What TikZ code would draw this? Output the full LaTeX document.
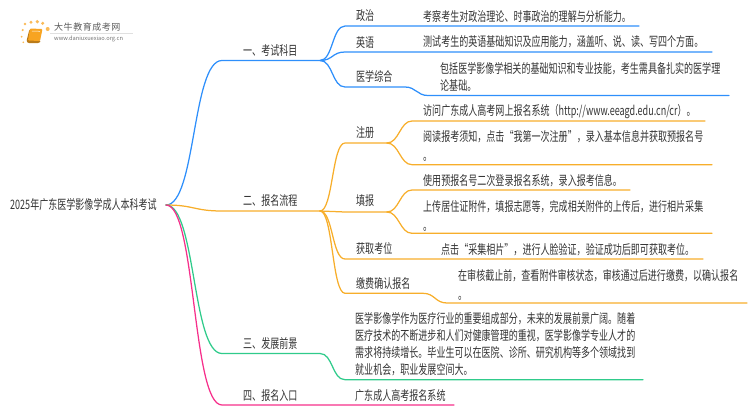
\documentclass[tikz,border=0pt]{standalone}
\usepackage{fontspec}
\setmainfont{Noto Sans CJK SC}[FakeStretch=0.695]
\newfontfamily\logofont{Noto Sans CJK SC}[LetterSpace=6]
\newfontfamily\urlfont{Noto Sans CJK SC}
\usepackage{tikz}

\definecolor{keblue}{HTML}{2E8FFB}
\definecolor{keorange}{HTML}{F7AE2B}
\definecolor{kegreen}{HTML}{2FCB8B}
\definecolor{kepink}{HTML}{F62F8B}
\definecolor{ketext}{HTML}{333333}
\definecolor{logoorange}{HTML}{F8A421}

\tikzset{
    txt/.style={anchor=west, inner sep=0pt, text=ketext, font=\fontsize{13}{17}\selectfont, align=left},
    branch/.style={line width=1.25pt, line cap=round},
    dot/.style={circle, fill=logoorange!75, inner sep=0pt}
}

\begin{document}
\begin{tikzpicture}[x=1pt, y=-1pt]

    \useasboundingbox (0,0) rectangle (750,410);

    \coordinate (R) at (166,205);

    % first level
    \coordinate (A) at (222,60.5);
    \coordinate (Ae) at (320,60.5);
    \coordinate (B) at (222,211);
    \coordinate (Be) at (320,211);
    \coordinate (C) at (222,353.5);
    \coordinate (Ce) at (320,353.5);
    \coordinate (D) at (222,405);
    \coordinate (De) at (454,405);

    % second level
    \coordinate (A1) at (345,26);
    \coordinate (A1e) at (639,26);
    \coordinate (A2) at (345,52);
    \coordinate (A2e) at (712,52);
    \coordinate (A3) at (345,87);
    \coordinate (A3m) at (405,87);
    \coordinate (A3n) at (428,95.5);
    \coordinate (A3e) at (729,95.5);
    \coordinate (B1) at (345,143);
    \coordinate (B1m) at (387,143);
    \coordinate (B1a) at (412,121);
    \coordinate (B1ae) at (705,121);
    \coordinate (B1b) at (412,164.7);
    \coordinate (B1be) at (712,164.7);
    \coordinate (B2) at (345,212);
    \coordinate (B2m) at (387,212);
    \coordinate (B2a) at (412,190);
    \coordinate (B2ae) at (630,190);
    \coordinate (B2b) at (412,233.3);
    \coordinate (B2be) at (712,233.3);
    \coordinate (B3) at (345,259);
    \coordinate (B3e) at (703,259);
    \coordinate (B4) at (345,293.3);
    \coordinate (B4m) at (423,293.3);
    \coordinate (B4n) at (447,303);
    \coordinate (B4e) at (747,303);
    \coordinate (C1) at (345,379.7);
    \coordinate (C1e) at (643,379.7);

    \draw[branch, keblue] (R) .. controls +(30,0) and +(-30,0) .. (A) -- (Ae);
    \draw[branch, keblue] (Ae) .. controls +(13,0) and +(-13,0) .. (A1) -- (A1e);
    \draw[branch, keblue] (Ae) .. controls +(13,0) and +(-13,0) .. (A2) -- (A2e);
    \draw[branch, keblue] (Ae) .. controls +(13,0) and +(-13,0) .. (A3) -- (A3m)
        .. controls +(11,0) and +(-11,0) .. (A3n) -- (A3e);

    \draw[branch, keorange] (R) .. controls +(28,0) and +(-28,0) .. (B) -- (Be);
    \draw[branch, keorange] (Be) .. controls +(13,0) and +(-13,0) .. (B1) -- (B1m);
    \draw[branch, keorange] (B1m) .. controls +(12,0) and +(-12,0) .. (B1a) -- (B1ae);
    \draw[branch, keorange] (B1m) .. controls +(12,0) and +(-12,0) .. (B1b) -- (B1be);
    \draw[branch, keorange] (Be) -- (B2) -- (B2m);
    \draw[branch, keorange] (B2m) .. controls +(12,0) and +(-12,0) .. (B2a) -- (B2ae);
    \draw[branch, keorange] (B2m) .. controls +(12,0) and +(-12,0) .. (B2b) -- (B2be);
    \draw[branch, keorange] (Be) .. controls +(13,0) and +(-13,0) .. (B3) -- (B3e);
    \draw[branch, keorange] (Be) .. controls +(13,0) and +(-13,0) .. (B4) -- (B4m)
        .. controls +(12,0) and +(-12,0) .. (B4n) -- (B4e);

    \draw[branch, kegreen] (R) .. controls +(30,0) and +(-30,0) .. (C) -- (Ce);
    \draw[branch, kegreen] (Ce) .. controls +(13,0) and +(-13,0) .. (C1) -- (C1e);

    \draw[branch, kepink] (R) .. controls +(30,0) and +(-30,0) .. (D) -- (De);

    % labels
    \node[txt] (root) at (10,205) {2025年广东医学影像学成人本科考试};
    \node[txt] (n1) at (243,51) {一、考试科目};
    \node[txt] (n2) at (243,201) {二、报名流程};
    \node[txt] (n3) at (243,344) {三、发展前景};
    \node[txt] (n4) at (243,396) {四、报名入口};

    \node[txt] (n11) at (356,16) {政治};
    \node[txt] (n12) at (356,43) {英语};
    \node[txt] (n13) at (356,76) {医学综合};
    \node[txt] (n21) at (356,133) {注册};
    \node[txt] (n22) at (356,201) {填报};
    \node[txt] (n23) at (356,249) {获取考位};
    \node[txt] (n24) at (356,284) {缴费确认报名};

    \node[txt] (t11) at (423,17) {考察考生对政治理论、时事政治的理解与分析能力。};
    \node[txt] (t12) at (423,42) {测试考生的英语基础知识及应用能力，涵盖听、说、读、写四个方面。};
    \node[txt] (t13) at (440,77) {包括医学影像学相关的基础知识和专业技能，考生需具备扎实的医学理\\论基础。};
    \node[txt] (t21) at (423,112) {访问广东成人高考网上报名系统（http://www.eeagd.edu.cn/cr）。};
    \node[txt] (t22) at (423,146) {阅读报考须知，点击“我第一次注册”，录入基本信息并获取预报名号\\[2pt]。};
    \node[txt] (t23) at (423,181) {使用预报名号二次登录报名系统，录入报考信息。};
    \node[txt] (t24) at (423,216) {上传居住证附件，填报志愿等，完成相关附件的上传后，进行相片采集\\[2pt]。};
    \node[txt] (t25) at (441,250) {点击“采集相片”，进行人脸验证，验证成功后即可获取考位。};
    \node[txt] (t26) at (458,285) {在审核截止前，查看附件审核状态，审核通过后进行缴费，以确认报名\\[2pt]。};
    \node[txt] (t31) at (355,344.5) {医学影像学作为医疗行业的重要组成部分，未来的发展前景广阔。随着\\医疗技术的不断进步和人们对健康管理的重视，医学影像学专业人才的\\需求将持续增长。毕业生可以在医院、诊所、研究机构等多个领域找到\\就业机会，职业发展空间大。};
    \node[txt] (t41) at (355,396) {广东成人高考报名系统};

    % logo
    \foreach \dx/\dy/\rad in {22.7/30/1.2,21.7/36.7/1,23.3/42.3/.9,25/24/1.3,31/22.3/1.6,37.3/21.7/1.8,42.7/23.3/1.7,47.7/29/2}{
        \node[dot, minimum size=2*\rad pt] at (\dx,\dy) {};
    }
    \fill[logoorange!75!black, rounded corners=1pt] (29.5,29) -- (31,38) -- (41,41) -- (39,43) -- (28,43) -- (26.5,41) -- cycle;
    \fill[logoorange, rounded corners=1pt] (30,28.5) -- (42.5,29) -- (40,41) -- (28,40.5) -- cycle;
    \draw[white, line width=0.5pt] (32,31) -- (40,31.3);
    \node[anchor=west, inner sep=0pt, text=black!65, font=\logofont\fontsize{9}{9}\selectfont] (logoname) at (54,27) {大牛教育成考网};
    \draw[black!12, line width=0.4pt] (50,33) -- (133,33);
    \node[anchor=west, inner sep=0pt, text=black!55, font=\urlfont\fontsize{5.7}{6}\selectfont] (logourl) at (54,38.5) {www.daniuxuexiao.org.cn};

\end{tikzpicture}
\end{document}
